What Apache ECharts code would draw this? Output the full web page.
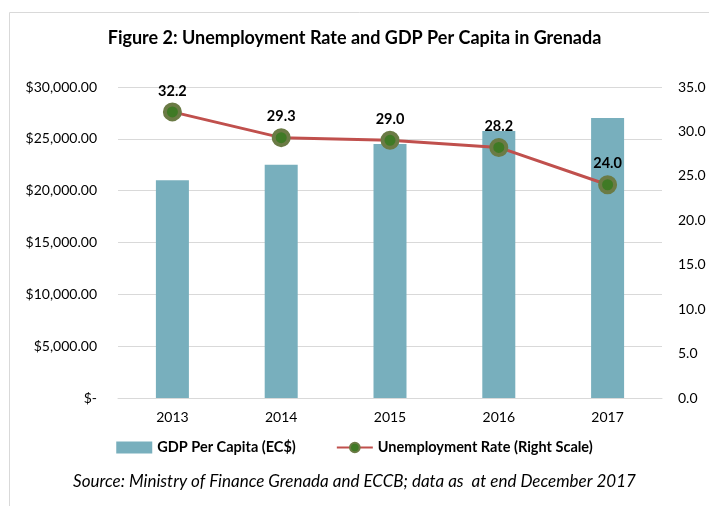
<!DOCTYPE html>
<html><head><meta charset="utf-8">
<script src="https://cdn.jsdelivr.net/npm/echarts@6/dist/echarts.min.js"></script>
<style>html,body{margin:0;padding:0;background:#fff}#c{width:709px;height:506px}</style>
</head><body><div id="c"></div>
<script>
const categories = ['2013','2014','2015','2016','2017'];
const gdpPerCapita = [21000, 22500, 24500, 25750, 27000];
const unemploymentRate = [32.2, 29.3, 29.0, 28.2, 24.0];
const leftTicks = [0, 5000, 10000, 15000, 20000, 25000, 30000];
const rightTicks = [0, 5, 10, 15, 20, 25, 30, 35];

const font = 'Lato, "Open Sans", sans-serif';
const chart = echarts.init(document.getElementById('c'));
chart.setOption({
  animation: false,
  graphic: [
    {type:'rect', shape:{x:9.5,y:12.5,width:720,height:520}, style:{fill:'none', stroke:'#d9d9d9', lineWidth:1}, silent:true},
    {type:'text', left:'center', top:473, style:{text:'Source: Ministry of Finance Grenada and ECCB; data as  at end December 2017', font:'italic 17px '+font, fill:'#000'}}
  ],
  title: {text:'Figure 2: Unemployment Rate and GDP Per Capita in Grenada', left:'center', top:24,
    textStyle:{fontFamily:font, fontSize:18, fontWeight:'bold', color:'#000'}},
  legend: {top:435, left:'center', itemGap:40, itemWidth:36, itemHeight:12,
    textStyle:{fontFamily:font, fontSize:14.5, fontWeight:'bold', color:'#000'},
    data:[{name:'GDP Per Capita (EC$)', icon:'rect'}, {name:'Unemployment Rate (Right Scale)'}]},
  grid: {left:118, right:47, top:87, bottom:108},
  xAxis: {type:'category', data:categories, axisTick:{show:false},
    axisLine:{lineStyle:{color:'#d9d9d9'}},
    axisLabel:{fontFamily:font, fontSize:14, color:'#000', margin:12}},
  yAxis: [
    {type:'value', min:0, max:30000, interval:5000, position:'left',
      axisLabel:{fontFamily:font, fontSize:14, color:'#000', margin:21,
        formatter:v => v===0 ? '$-' : '$' + v.toLocaleString('en-US',{minimumFractionDigits:2})},
      splitLine:{lineStyle:{color:'#d9d9d9'}}, axisLine:{show:false}, axisTick:{show:false}},
    {type:'value', min:0, max:35, interval:5, position:'right',
      axisLabel:{fontFamily:font, fontSize:14, color:'#000', margin:16, formatter:v => v.toFixed(1)},
      splitLine:{show:false}, axisLine:{show:false}, axisTick:{show:false}},
  ],
  series: [
    {name:'GDP Per Capita (EC$)', type:'bar', data:gdpPerCapita, barWidth:33, yAxisIndex:0,
      itemStyle:{color:'#78afbd'}},
    {name:'Unemployment Rate (Right Scale)', type:'line', data:unemploymentRate, yAxisIndex:1,
      symbol:'circle', symbolSize:15,
      lineStyle:{color:'#c0504d', width:3},
      itemStyle:{color:'#3f7a25', borderColor:'#6b7b45', borderWidth:4},
      label:{show:true, position:'top', distance:4, fontFamily:font, fontSize:14.5, fontWeight:'bold', color:'#000',
        formatter:p => p.value.toFixed(1)}}
  ]
});
</script></body></html>
